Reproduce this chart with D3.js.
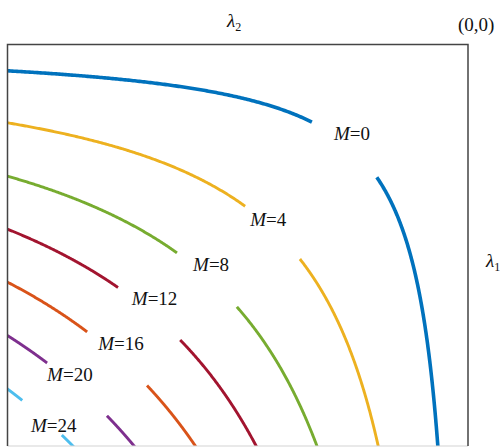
<!DOCTYPE html>
<html><head><meta charset="utf-8">
<script src="https://cdn.jsdelivr.net/npm/d3@7"></script>
<style>
html,body{margin:0;padding:0;background:#fff;}
svg{display:block;}
text{font-family:"Times New Roman","Liberation Serif",serif;fill:#111;}
</style></head>
<body>
<script>
// Contour levels (M) and the level value of λ1·λ2
const levels = [0, 4, 8, 12, 16, 20, 24];
const products = [0.0655, 0.195, 0.328, 0.46, 0.592, 0.725, 0.858];
const colors = ["#0072BD", "#EDB120", "#77AC30", "#A2142F", "#D95319", "#7E2F8E", "#4DBEEE"];
// label gaps along λ2 (start, end) and label anchors (λ2, λ1)
const gapStart = [0.339, 0.484, 0.632, 0.760, 0.827, 0.914, 0.968];
const gapEnd   = [0.198, 0.365, 0.502, 0.625, 0.697, 0.784, 0.882];
const labelL2  = [0.291, 0.473, 0.597, 0.730, 0.803, 0.914, 0.949];
const labelL1  = [0.237, 0.451, 0.565, 0.648, 0.760, 0.837, 0.966];

const W = 501, H = 448;
const box = {left: 7.5, right: 468, top: 44.5, bottom: 446};
const svg = d3.select("body").append("svg").attr("width", W).attr("height", H);

// λ2 horizontal, increasing to the left; λ1 vertical, increasing downward; origin at top-right
const x = d3.scaleLinear().domain([0, 1]).range([box.right, box.left]);
const y = d3.scaleLinear().domain([0, 1]).range([box.top, box.bottom]);

svg.append("defs").append("clipPath").attr("id", "clip")
  .append("rect").attr("x", box.left).attr("y", box.top)
  .attr("width", box.right - box.left).attr("height", box.bottom - box.top);

const line = d3.line().x(d => x(d[0])).y(d => y(d[1]));
const g = svg.append("g").attr("clip-path", "url(#clip)");

levels.forEach((m, i) => {
  const k = products[i];
  const seg = (a, b) => {
    const pts = [];
    const n = 200;
    for (let j = 0; j <= n; j++) {
      const l2 = a + (b - a) * j / n;
      pts.push([l2, k / l2]);
    }
    return pts;
  };
  const segs = [seg(gapStart[i], 1.02), seg(k / 1.02, gapEnd[i])];
  segs.forEach(s => {
    g.append("path").attr("d", line(s)).attr("fill", "none")
      .attr("stroke", colors[i]).attr("stroke-width", i === 0 ? 3.6 : 2.9)
      .attr("stroke-linejoin", "round");
  });
  const t = svg.append("text").attr("x", x(labelL2[i])).attr("y", y(labelL1[i]))
    .attr("font-size", 19);
  t.append("tspan").attr("font-style", "italic").text("M");
  t.append("tspan").text("=" + m);
});

// frame: faint bottom edge, dark top and sides
svg.append("line").attr("x1", box.left).attr("x2", box.right)
  .attr("y1", box.bottom).attr("y2", box.bottom)
  .attr("stroke", "#d4d4d4").attr("stroke-width", 1.2);
svg.append("path")
  .attr("d", `M${box.left},${box.bottom}V${box.top}H${box.right}V${box.bottom}`)
  .attr("fill", "none").attr("stroke", "#444").attr("stroke-width", 1.5);

// axis labels
const l2 = svg.append("text").attr("x", 227).attr("y", 27).attr("font-size", 19);
l2.append("tspan").attr("font-style", "italic").text("λ");
l2.append("tspan").attr("font-size", 12).attr("dy", 4).text("2");

const l1 = svg.append("text").attr("x", 486).attr("y", 267).attr("font-size", 19);
l1.append("tspan").attr("font-style", "italic").text("λ");
l1.append("tspan").attr("font-size", 12).attr("dy", 4).text("1");

svg.append("text").attr("x", 458).attr("y", 31).attr("font-size", 19).text("(0,0)");
</script>
</body></html>
